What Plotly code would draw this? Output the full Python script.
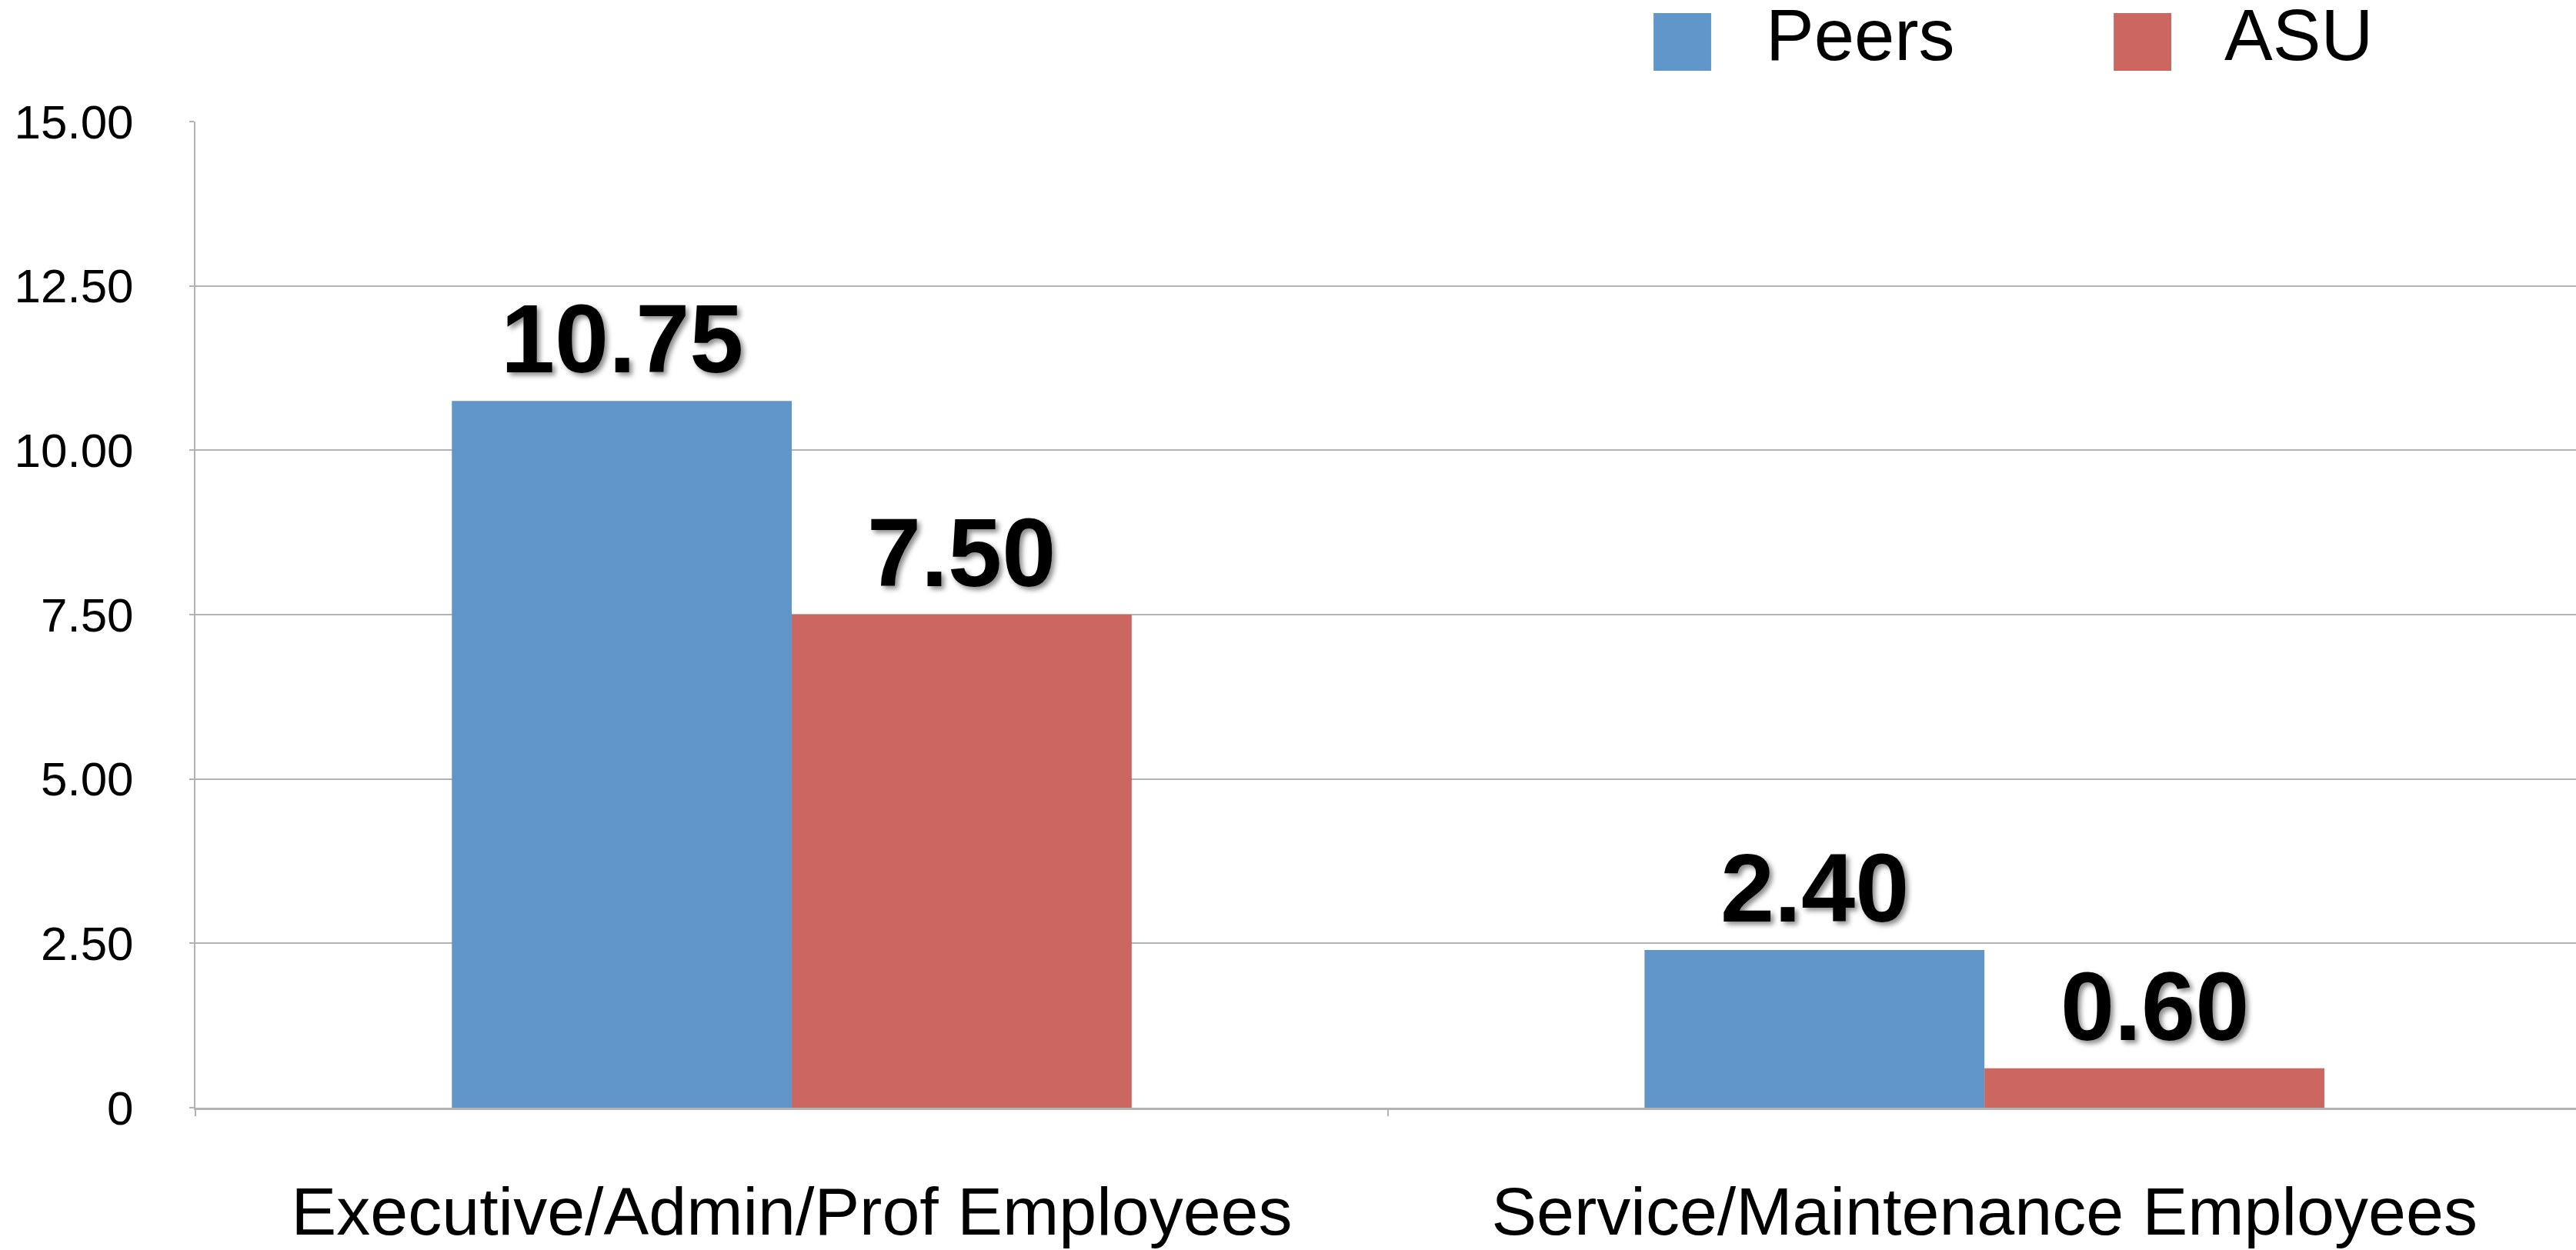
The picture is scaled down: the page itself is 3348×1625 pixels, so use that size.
import plotly.graph_objects as go

categories = ["Executive/Admin/Prof Employees", "Service/Maintenance Employees"]
series_names = ["Peers", "ASU"]
peers_values = [10.75, 2.40]
asu_values = [7.50, 0.60]
series_colors = ["#6096C9", "#CC6660"]
y_tickvals = [0, 2.5, 5, 7.5, 10, 12.5, 15]
y_ticktext = ["0", "2.50", "5.00", "7.50", "10.00", "12.50", "15.00"]

FONT = "Liberation Sans, Arial, Helvetica, sans-serif"
GRID = "#b3b3b3"
BARGAP = 0.43

fig = go.Figure()
for name, vals, col in zip(series_names, [peers_values, asu_values], series_colors):
    fig.add_trace(go.Bar(x=categories, y=vals, name=name, marker=dict(color=col, line=dict(width=0)),
                         showlegend=False))

# value labels above bars
offset = (1 - BARGAP) / 4
annotations = []
for k, vals in enumerate([peers_values, asu_values]):
    sign = -1 if k == 0 else 1
    for i, v in enumerate(vals):
        annotations.append(dict(
            x=i + sign * offset, y=v, xref="x", yref="y",
            text=f"{v:.2f}", showarrow=False, xanchor="center", yanchor="bottom", yshift=8,
            font=dict(family=FONT, size=126, color="black", weight="bold",
                      shadow="4px 4px 6px rgba(0,0,0,0.45)"),
        ))

# manual legend (large squares)
legend_sq_x = [(0.6125, 0.6367), (0.8058, 0.8300)]
legend_txt_x = [0.659, 0.8515]
shapes = []
for (x0, x1), tx, name, col in zip(legend_sq_x, legend_txt_x, series_names, series_colors):
    shapes.append(dict(type="rect", xref="paper", yref="paper", x0=x0, x1=x1, y0=1.0515, y1=1.110,
                       fillcolor=col, line=dict(width=0)))
    annotations.append(dict(x=tx, y=1.0874, xref="paper", yref="paper", text=name, showarrow=False,
                            xanchor="left", yanchor="middle",
                            font=dict(family=FONT, size=94, color="black")))

fig.update_layout(
    width=3348, height=1625,
    margin=dict(l=254, r=0, t=158, b=185, autoexpand=False),
    paper_bgcolor="white", plot_bgcolor="white",
    barmode="group", bargap=BARGAP, bargroupgap=0,
    annotations=annotations, shapes=shapes,
    showlegend=False,
)
fig.update_xaxes(
    type="category", range=[-0.5, 1.496],
    showline=True, linecolor=GRID, linewidth=3,
    ticks="outside", tickson="boundaries", ticklen=8, tickwidth=2, tickcolor=GRID,
    showgrid=False, ticklabelstandoff=56,
    tickfont=dict(family=FONT, size=88, color="black"),
)
fig.update_yaxes(
    range=[0, 15], tickvals=y_tickvals, ticktext=y_ticktext,
    showline=True, linecolor=GRID, linewidth=2,
    showgrid=True, gridcolor=GRID, gridwidth=2,
    zeroline=False,
    ticks="outside", ticklen=6, tickwidth=2, tickcolor=GRID,
    ticklabelstandoff=60,
    tickfont=dict(family=FONT, size=62, color="black"),
)

fig.write_html("out.html", config={"displayModeBar": False},
               post_script="document.body.style.margin='0';document.body.style.overflow='hidden';")
